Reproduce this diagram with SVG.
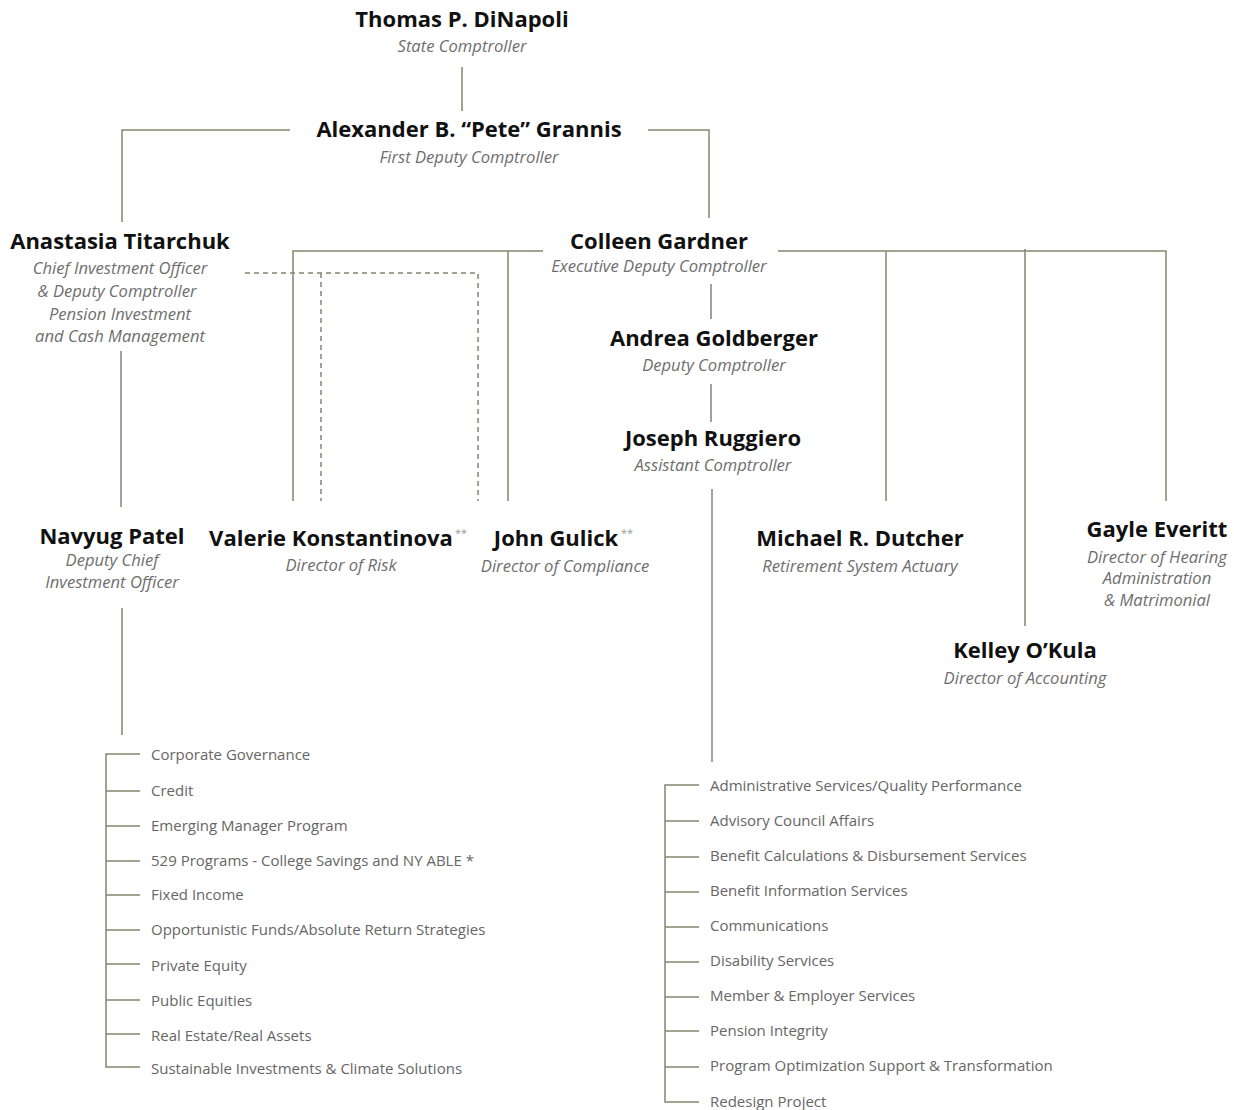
<svg xmlns="http://www.w3.org/2000/svg" width="1234" height="1110" viewBox="0 0 1234 1110">
<style>
.n{font-family:"Open Sans","Liberation Sans",sans-serif;font-weight:bold;font-size:22px;fill:#111;text-anchor:middle}
.t{font-family:"Open Sans","Liberation Sans",sans-serif;font-style:italic;font-size:16.6px;fill:#6e6e6e;text-anchor:middle}
.s{font-family:"Open Sans","Liberation Sans",sans-serif;font-size:11px;fill:#999}
.i{font-family:"Open Sans","Liberation Sans",sans-serif;font-size:15px;fill:#666}
.l{stroke:#85856f;stroke-width:1.5;fill:none}
.d{stroke:#85856f;stroke-width:1.5;fill:none;stroke-dasharray:5,4}
</style>
<rect width="1234" height="1110" fill="#fff"/>
<g id="connectors">
<path class="l" d="M462 67V111"/>
<path class="l" d="M290 130H122V222"/>
<path class="l" d="M648 130H709V218"/>
<path class="l" d="M121 351V507"/>
<path class="l" d="M543 251H293V501M508 251V501"/>
<path class="l" d="M778 251H1166V501M886 251V501M1025 249V626"/>
<path class="l" d="M711 284V319"/>
<path class="l" d="M711 384V422"/>
<path class="l" d="M712 489V762"/>
<path class="l" d="M122 608V735"/>
<path class="d" d="M245 273H478V501M321 273V501"/>
<path class="l" d="M140 754H106V1067H140M106 791H140M106 826H140M106 861H140M106 895H140M106 930H140M106 964H140M106 1000H140M106 1034H140"/>
<path class="l" d="M699 785H665V1102H699M665 821H699M665 857H699M665 892H699M665 927H699M665 962H699M665 997H699M665 1031H699M665 1067H699"/>
</g>
<g id="dinapoli"><text class="n" x="462" y="27">Thomas P. DiNapoli</text><text class="t" x="462" y="52">State Comptroller</text></g>
<g id="grannis"><text class="n" x="469" y="137">Alexander B. “Pete” Grannis</text><text class="t" x="469" y="163">First Deputy Comptroller</text></g>
<g id="titarchuk"><text class="n" x="120" y="249">Anastasia Titarchuk</text>
<text class="t" x="120" y="274">Chief Investment Officer</text><text class="t" x="117" y="297">&amp; Deputy Comptroller</text><text class="t" x="120" y="320">Pension Investment</text><text class="t" x="120" y="342">and Cash Management</text></g>
<g id="gardner"><text class="n" x="659" y="249">Colleen Gardner</text><text class="t" x="659" y="272">Executive Deputy Comptroller</text></g>
<g id="goldberger"><text class="n" x="714" y="346">Andrea Goldberger</text><text class="t" x="714" y="371">Deputy Comptroller</text></g>
<g id="ruggiero"><text class="n" x="713" y="446">Joseph Ruggiero</text><text class="t" x="713" y="471">Assistant Comptroller</text></g>
<g id="patel"><text class="n" x="112" y="544">Navyug Patel</text><text class="t" x="112" y="566">Deputy Chief</text><text class="t" x="112" y="588">Investment Officer</text></g>
<g id="konstantinova"><text class="n" x="331" y="546">Valerie Konstantinova</text><text class="s" x="455" y="537">**</text><text class="t" x="341" y="571">Director of Risk</text></g>
<g id="gulick"><text class="n" x="556" y="546">John Gulick</text><text class="s" x="621" y="537">**</text><text class="t" x="565" y="572">Director of Compliance</text></g>
<g id="dutcher"><text class="n" x="860" y="546">Michael R. Dutcher</text><text class="t" x="860" y="572">Retirement System Actuary</text></g>
<g id="everitt"><text class="n" x="1157" y="537">Gayle Everitt</text><text class="t" x="1157" y="563">Director of Hearing</text><text class="t" x="1157" y="584">Administration</text><text class="t" x="1157" y="606">&amp; Matrimonial</text></g>
<g id="okula"><text class="n" x="1025" y="658">Kelley O’Kula</text><text class="t" x="1025" y="684">Director of Accounting</text></g>
<g id="investment-units">
<text class="i" x="151" y="760">Corporate Governance</text>
<text class="i" x="151" y="796">Credit</text>
<text class="i" x="151" y="831">Emerging Manager Program</text>
<text class="i" x="151" y="866">529 Programs - College Savings and NY ABLE *</text>
<text class="i" x="151" y="900">Fixed Income</text>
<text class="i" x="151" y="935">Opportunistic Funds/Absolute Return Strategies</text>
<text class="i" x="151" y="971">Private Equity</text>
<text class="i" x="151" y="1006">Public Equities</text>
<text class="i" x="151" y="1041">Real Estate/Real Assets</text>
<text class="i" x="151" y="1074">Sustainable Investments &amp; Climate Solutions</text>
</g>
<g id="retirement-units">
<text class="i" x="710" y="791">Administrative Services/Quality Performance</text>
<text class="i" x="710" y="826">Advisory Council Affairs</text>
<text class="i" x="710" y="861">Benefit Calculations &amp; Disbursement Services</text>
<text class="i" x="710" y="896">Benefit Information Services</text>
<text class="i" x="710" y="931">Communications</text>
<text class="i" x="710" y="966">Disability Services</text>
<text class="i" x="710" y="1001">Member &amp; Employer Services</text>
<text class="i" x="710" y="1036">Pension Integrity</text>
<text class="i" x="710" y="1071">Program Optimization Support &amp; Transformation</text>
<text class="i" x="710" y="1107">Redesign Project</text>
</g>
</svg>
